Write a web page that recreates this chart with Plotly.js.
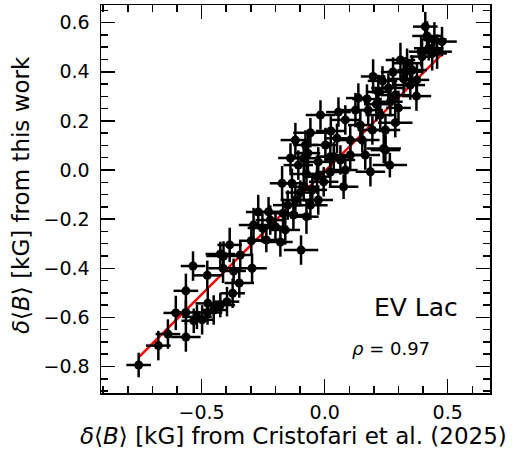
<!DOCTYPE html>
<html>
<head>
<meta charset="utf-8">
<script src="https://cdn.plot.ly/plotly-3.0.1.min.js"></script>
<style>html,body{margin:0;padding:0;background:#fff;}</style>
</head>
<body>
<div id="chart" style="width:523px;height:450px;"></div>
<script>
// delta<B> from Cristofari et al. (2025) [kG]
const cristofari = [
-0.756,-0.676,-0.637,-0.564,-0.605,-0.564,-0.564,-0.535,-0.477,-0.532,
-0.519,-0.498,-0.475,-0.476,-0.451,-0.424,-0.397,-0.374,-0.347,-0.370,
-0.413,-0.411,-0.386,-0.424,-0.343,-0.295,-0.298,-0.289,-0.228,-0.180,
-0.237,-0.200,-0.169,-0.096,-0.074,-0.150,-0.099,-0.173,-0.133,-0.074,
-0.085,-0.031,-0.004,0.077,-0.058,0.025,-0.068,-0.085,0.023,0.050,
0.186,0.265,0.247,0.197,0.235,0.335,0.396,0.416,0.446,0.477,
0.423,0.392,0.457,0.328,0.321,0.375,0.373,0.172,0.210,0.287,
0.348,0.267,0.226,0.240,0.037,0.104,0.437,0.409,0.084,0.125,
0.145,0.104,0.153,0.064,0.003,-0.026,-0.107,-0.139,-0.050,0.023,
0.084,0.165,0.194,0.218,0.259,0.287,0.300,0.177,0.247,0.137,
-0.253,-0.270,-0.221,-0.160,-0.127,-0.119,-0.058,-0.026,-0.078,-0.119,
-0.017,0.056,0.308,0.356,0.278];
// delta<B> from this work [kG]
const thisWork = [
-0.794,-0.715,-0.668,-0.680,-0.582,-0.580,-0.492,-0.391,-0.429,-0.614,
-0.598,-0.610,-0.543,-0.580,-0.570,-0.550,-0.536,-0.502,-0.460,-0.411,
-0.400,-0.350,-0.305,-0.342,-0.346,-0.400,-0.288,-0.224,-0.170,-0.293,
-0.285,-0.231,-0.176,-0.326,-0.190,-0.143,-0.092,-0.054,-0.054,-0.016,
-0.068,-0.027,-0.048,-0.068,0.152,0.159,0.069,0.048,0.054,0.129,
-0.007,0.020,0.081,0.381,0.363,0.435,0.462,0.546,0.532,0.523,
0.496,0.482,0.482,0.400,0.371,0.367,0.301,0.289,0.268,0.193,
0.346,0.278,0.224,0.088,0.054,0.122,0.475,0.584,0.204,0.244,
0.183,0.061,0.122,0.041,0.102,0.033,0.020,0.049,-0.081,-0.008,
0.000,0.061,0.163,0.318,0.334,0.305,0.253,0.244,0.163,0.293,
-0.236,-0.171,-0.204,-0.244,-0.183,-0.122,-0.143,-0.122,0.102,0.122,
0.224,0.236,0.448,0.407,0.399];
const errCristofari = [
0.05,0.05,0.05,0.06,0.05,0.06,0.05,0.05,0.06,0.05,
0.06,0.05,0.05,0.06,0.05,0.06,0.05,0.05,0.06,0.05,
0.06,0.07,0.05,0.06,0.05,0.06,0.05,0.06,0.06,0.05,
0.06,0.05,0.06,0.07,0.05,0.06,0.06,0.05,0.06,0.07,
0.06,0.05,0.06,0.06,0.07,0.06,0.05,0.06,0.06,0.05,
0.06,0.07,0.06,0.05,0.06,0.06,0.05,0.06,0.05,0.06,
0.06,0.05,0.06,0.07,0.06,0.05,0.06,0.06,0.05,0.07,
0.06,0.05,0.06,0.07,0.06,0.05,0.06,0.05,0.06,0.06,
0.05,0.06,0.07,0.06,0.05,0.06,0.06,0.05,0.06,0.06,
0.05,0.06,0.06,0.05,0.07,0.06,0.05,0.06,0.06,0.05,
0.06,0.05,0.06,0.06,0.05,0.06,0.07,0.06,0.05,0.06,
0.06,0.05,0.06,0.06,0.05];
const errThisWork = [
0.05,0.06,0.06,0.06,0.07,0.05,0.07,0.06,0.06,0.05,
0.05,0.06,0.06,0.05,0.06,0.05,0.06,0.06,0.06,0.05,
0.06,0.06,0.07,0.05,0.06,0.06,0.06,0.07,0.06,0.06,
0.05,0.06,0.06,0.06,0.07,0.06,0.05,0.07,0.06,0.06,
0.06,0.07,0.06,0.05,0.06,0.06,0.07,0.06,0.06,0.06,
0.06,0.05,0.06,0.07,0.06,0.06,0.07,0.06,0.07,0.06,
0.05,0.06,0.07,0.06,0.06,0.07,0.06,0.06,0.07,0.06,
0.06,0.06,0.07,0.06,0.06,0.06,0.07,0.06,0.06,0.07,
0.06,0.06,0.05,0.06,0.07,0.06,0.06,0.06,0.07,0.06,
0.06,0.06,0.06,0.07,0.06,0.06,0.07,0.06,0.06,0.06,
0.06,0.07,0.06,0.06,0.06,0.07,0.06,0.06,0.06,0.07,
0.06,0.06,0.07,0.06,0.06];
// linear fit line end points
const fitX = [-0.756, 0.487];
const fitY = [-0.763, 0.482];
const xTicks = [-0.5, 0.0, 0.5];
const xTickText = ['\u22120.5', '0.0', '0.5'];
const yTicks = [-0.8, -0.6, -0.4, -0.2, 0.0, 0.2, 0.4, 0.6];
const yTickText = ['\u22120.8', '\u22120.6', '\u22120.4', '\u22120.2', '0.0', '0.2', '0.4', '0.6'];
const starName = 'EV Lac';
const rhoValue = '0.97';

const FONT = 'DejaVu Sans, sans-serif';

const traces = [
  {
    x: fitX, y: fitY, mode: 'lines', type: 'scatter',
    line: {color: '#ff0000', width: 2.5}, hoverinfo: 'skip', showlegend: false
  },
  {
    x: cristofari, y: thisWork, mode: 'markers', type: 'scatter',
    marker: {color: '#000', size: 9},
    error_x: {type: 'data', array: errCristofari, color: '#000', thickness: 2.5, width: 0},
    error_y: {type: 'data', array: errThisWork, color: '#000', thickness: 2.5, width: 0},
    showlegend: false
  }
];

const axisCommon = {
  showgrid: false, zeroline: false,
  showline: true, linecolor: '#000', linewidth: 1.5, mirror: 'allticks',
  ticks: 'inside', ticklen: 14, tickwidth: 1.5, tickcolor: '#000',
  tickfont: {family: FONT, size: 19, color: '#000'},
  tickmode: 'array'
};

const layout = {
  width: 523, height: 450,
  margin: {l: 101, r: 33, t: 5, b: 57},
  paper_bgcolor: '#fff', plot_bgcolor: '#fff',
  showlegend: false,
  xaxis: Object.assign({}, axisCommon, {
    range: [-0.909, 0.672], tickvals: xTicks, ticktext: xTickText,
    ticklabelstandoff: 2,
    minor: {ticks: 'inside', ticklen: 7, tickwidth: 1.5, tickcolor: '#000', dtick: 0.1, tick0: 0, showgrid: false}
  }),
  yaxis: Object.assign({}, axisCommon, {
    range: [-0.908, 0.672], tickvals: yTicks, ticktext: yTickText,
    ticklabelstandoff: 6,
    minor: {ticks: 'inside', ticklen: 7, tickwidth: 1.5, tickcolor: '#000', dtick: 0.05, tick0: 0, showgrid: false}
  }),
  annotations: [
    {text: '<i>δ</i>⟨<i>B</i>⟩ [kG] from Cristofari et al. (2025)', xref: 'paper', yref: 'paper',
     x: 0.5, y: -0.074, xanchor: 'center', yanchor: 'top', showarrow: false,
     font: {family: FONT, size: 23, color: '#000'}, xshift: -2, borderpad: 0},
    {text: '<i>δ</i>⟨<i>B</i>⟩ [kG] from this work', xref: 'paper', yref: 'paper',
     x: 0, y: 0.5, xanchor: 'center', yanchor: 'middle', textangle: -90, showarrow: false,
     font: {family: FONT, size: 23, color: '#000'}, xshift: -80, yshift: 4},
    {text: starName, xref: 'paper', yref: 'paper', x: 0.81, y: 0.22, xanchor: 'center', yanchor: 'middle',
     showarrow: false, font: {family: FONT, size: 25, color: '#000'}},
    {text: '<i>ρ</i> = ' + rhoValue, xref: 'paper', yref: 'paper', x: 0.745, y: 0.115, xanchor: 'center', yanchor: 'middle',
     showarrow: false, font: {family: FONT, size: 18, color: '#000'}}
  ]
};

Plotly.newPlot('chart', traces, layout, {displayModeBar: false, staticPlot: true});
</script>
</body>
</html>
